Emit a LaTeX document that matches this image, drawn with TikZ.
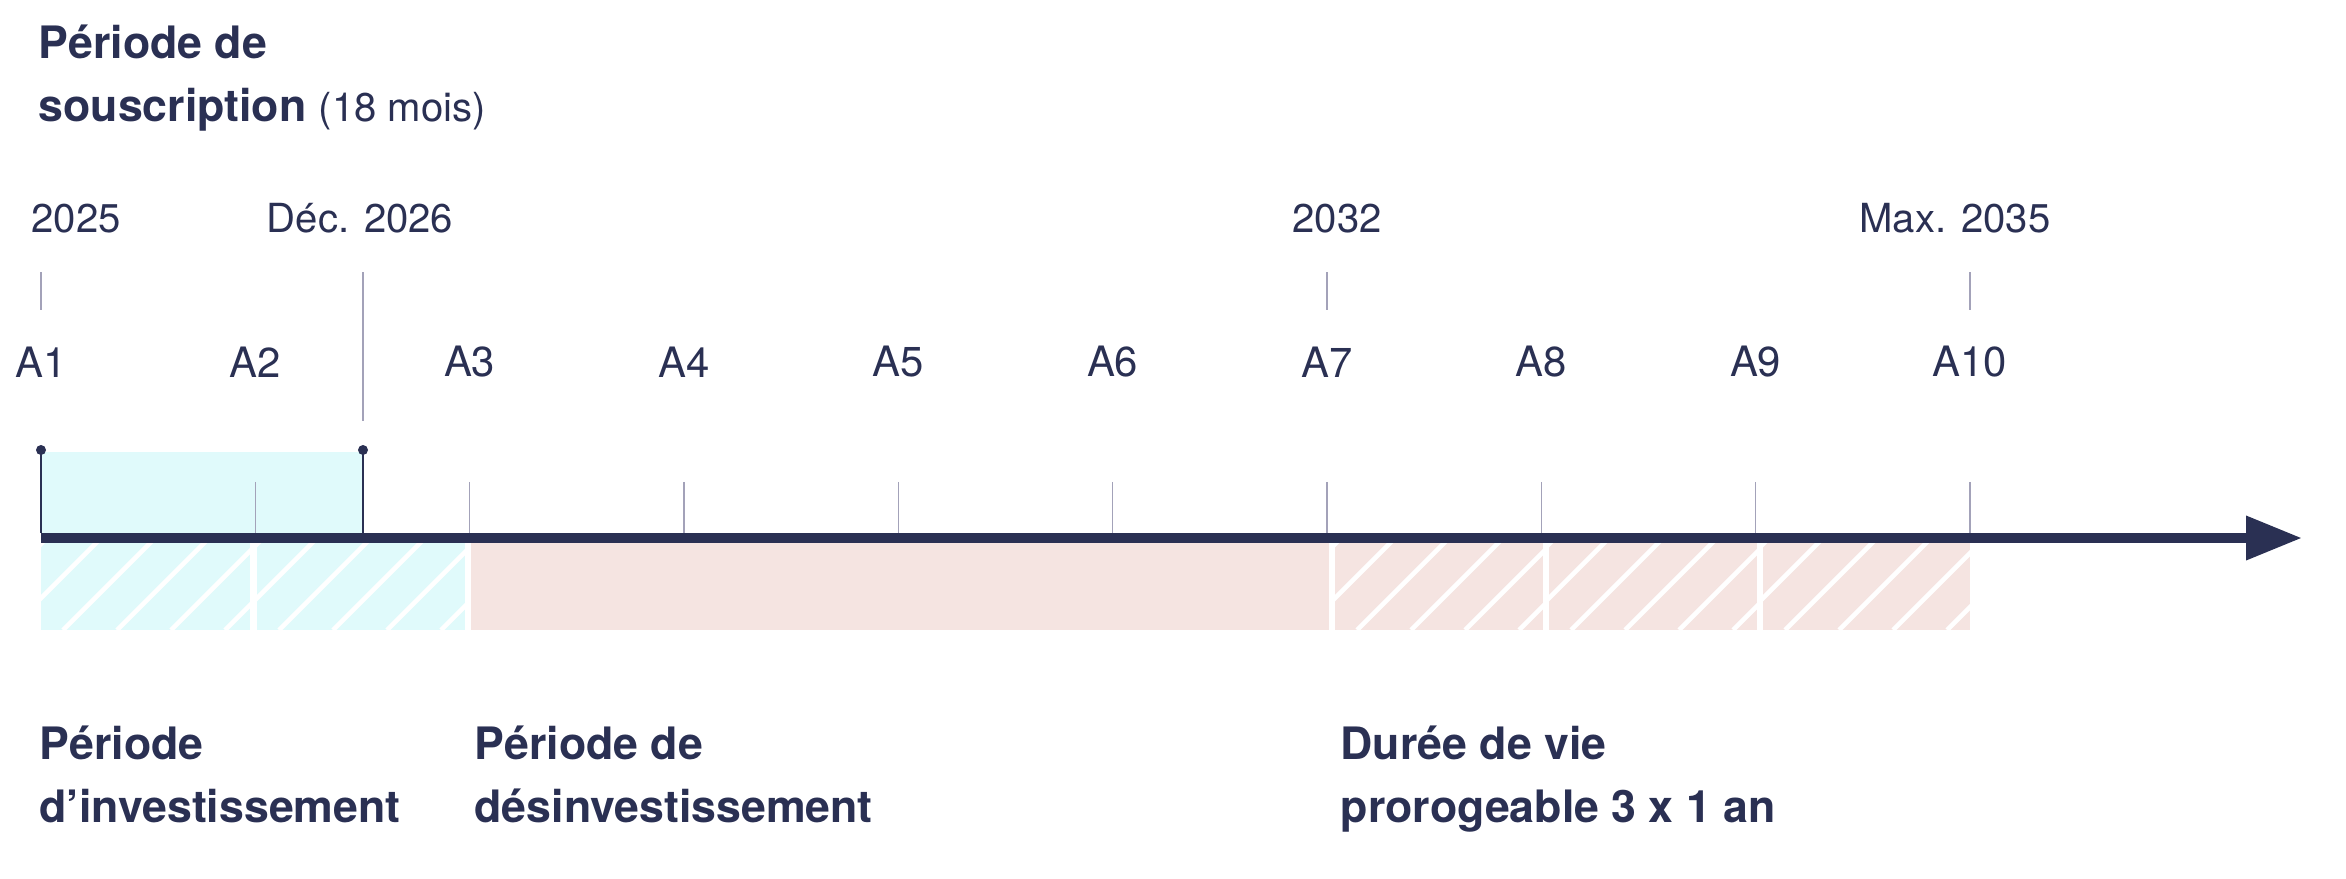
\documentclass[tikz,border=0pt]{standalone}
\usepackage{fontspec}
\setmainfont{TeX Gyre Heros}
\usetikzlibrary{positioning, arrows.meta}
\definecolor{navy}{HTML}{2A3053}
\definecolor{tickgray}{HTML}{A3A2B9}
\definecolor{cyanfill}{HTML}{E0FAFB}
\definecolor{pinkfill}{HTML}{F5E4E1}

\begin{document}
\begin{tikzpicture}[
        x=0.01cm, y=-0.01cm,
        yearlabel/.style={text=navy, font=\fontsize{11.4}{13}\selectfont, inner sep=0pt},
        yearbox/.style={text=navy, font=\fontsize{11.9}{14}\selectfont, inner sep=0pt},
        period/.style={text=navy, font=\bfseries\fontsize{12.7}{17.7}\selectfont, align=left, inner sep=0pt, anchor=base west},
        tickline/.style={draw=tickgray, line width=0.45pt},
        marker/.style={draw=navy, line width=0.6pt},
        hatch/.style={draw=white, line width=1.3pt}
        ]
        \useasboundingbox (0,0) rectangle (2346,878);

        % Subscription box
        \fill[cyanfill] (41,452) rectangle (363,533);

        % Band below the axis
        \fill[pinkfill] (471,543) rectangle (1329,630);
        \foreach \xa/\xb/\col in {41/250/cyanfill, 257/465/cyanfill, 1335/1543/pinkfill, 1549/1757/pinkfill, 1763/1970/pinkfill} {
            \fill[\col] (\xa,543) rectangle (\xb,630);
            \begin{scope}
                \clip (\xa,543) rectangle (\xb,630);
                \foreach \k in {-2,...,3}
                    \draw[hatch] ({\xa+22+54*\k},630) -- ++(100,-100);
            \end{scope}
        }

        % Years and ticks
        \foreach \i in {1,...,10} {
            \coordinate (t\i) at ({41+214.33*(\i-1)},538);
            \node[yearbox] (a\i) at ({41+214.33*(\i-1)},362) {A\i};
        }
        \foreach \i in {2,...,10}
            \draw[tickline] ([yshift=0.56cm]t\i) -- ([yshift=0.05cm]t\i);

        % Dates
        \node[yearlabel, anchor=base west] (d2025) at (31,232) {2025};
        \node[yearlabel, anchor=base] (ddec) at (360,232) {Déc. 2026};
        \node[yearlabel, anchor=base] (d2032) at (1337,232) {2032};
        \node[yearlabel, anchor=base] (d2035) at (1955,232) {Max. 2035};
        \draw[tickline] (41,272) -- (41,310);
        \draw[tickline] (363,272) -- (363,421);
        \draw[tickline] (t7 |- 0,272) -- (t7 |- 0,310);
        \draw[tickline] (t10 |- 0,272) -- (t10 |- 0,310);

        % Subscription markers
        \coordinate (s1) at (41,450);
        \coordinate (s2) at (363,450);
        \draw[marker] (s1) -- (s1 |- 0,533);
        \draw[marker] (s2) -- (s2 |- 0,533);
        \fill[navy] (s1) circle (5);
        \fill[navy] (s2) circle (5);

        % Axis
        \draw[navy, line width=0.1cm, -{Triangle[length=0.56cm, width=0.42cm]}] (t1) -- (2302,538);

        % Periods
        \node[period] (souscription) at (38,121) {Période de\\souscription {\mdseries\fontsize{11.4}{13}\selectfont(18 mois)}};
        \node[period] (invest) at (39,822) {Période\\d’investissement};
        \node[period] (desinvest) at (474,822) {Période de\\désinvestissement};
        \node[period] (duree) at (1340,822) {Durée de vie\\prorogeable 3 x 1 an};
    \end{tikzpicture}
\end{document}
